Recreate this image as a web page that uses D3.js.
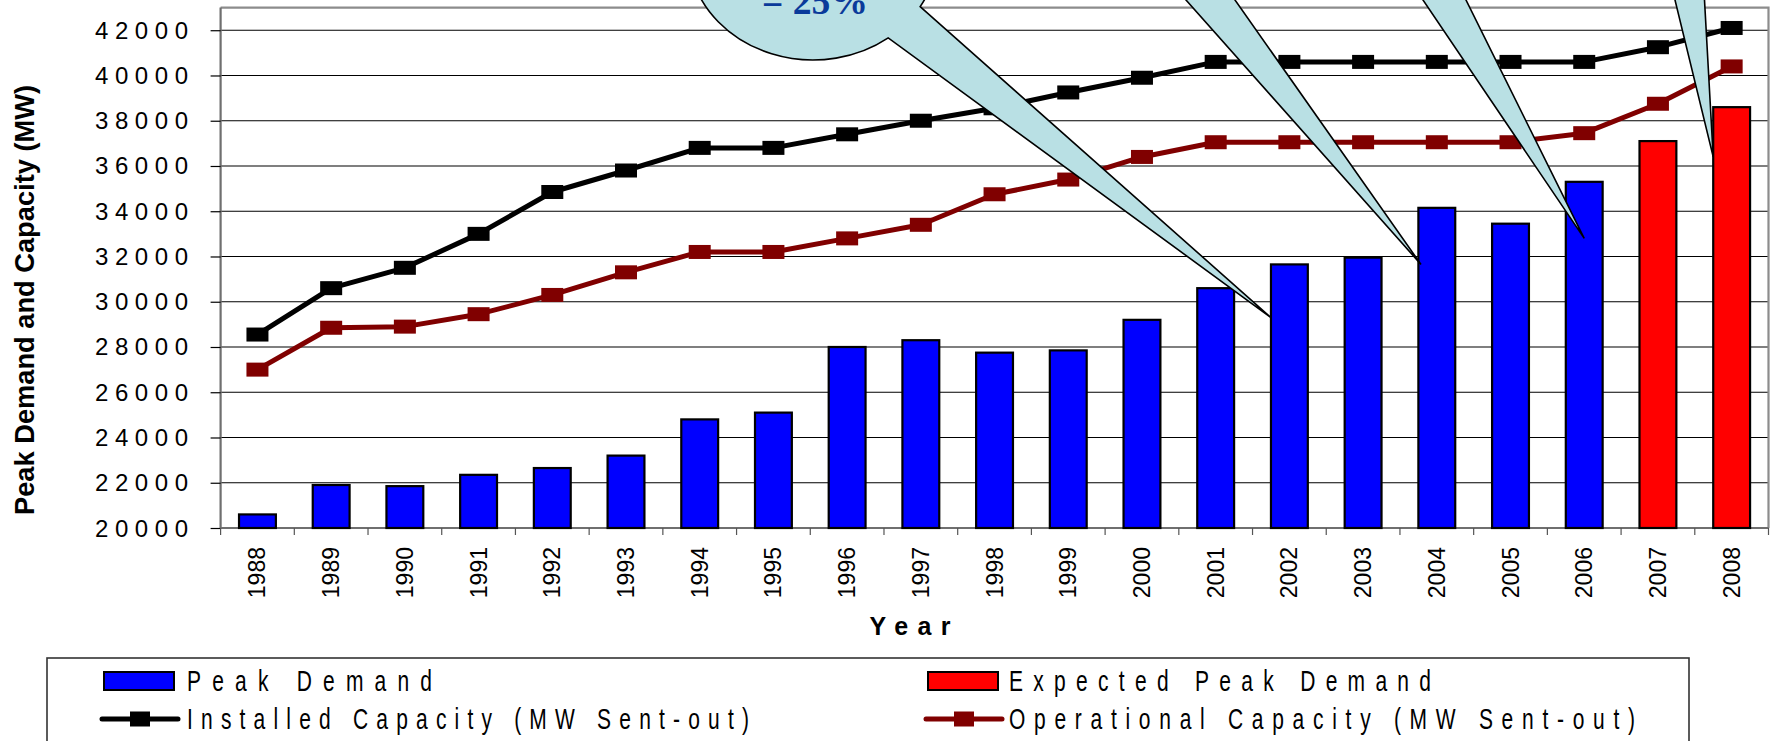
<!DOCTYPE html>
<html><head><meta charset="utf-8">
<script src="https://cdn.jsdelivr.net/npm/d3@7"></script>
<style>
body{margin:0;background:#fff}
svg{display:block}
text{font-family:"Liberation Sans",Arial,sans-serif}
text.serif{font-family:"Liberation Serif","Times New Roman",serif}
</style>
</head><body>
<svg id="c" width="1774" height="741"></svg>
<script>
// ---------- data ----------
const years = ["1988","1989","1990","1991","1992","1993","1994","1995","1996","1997","1998","1999","2000","2001","2002","2003","2004","2005","2006","2007","2008"];
const peakDemand = [20600,21900,21850,22350,22650,23200,24800,25100,28000,28300,27750,27850,29200,30600,31650,31950,34150,33450,35300,null,null];
const expectedPeakDemand = [null,null,null,null,null,null,null,null,null,null,null,null,null,null,null,null,null,null,null,37100,38600];
const installedCapacity = [28550,30600,31500,33000,34850,35800,36800,36800,37400,38000,38550,39250,39900,40600,40600,40600,40600,40600,40600,41250,42100];
const operationalCapacity = [27000,28850,28900,29450,30300,31300,32200,32200,32800,33400,34750,35400,36400,37050,37050,37050,37050,37050,37450,38750,40400];
const yTicks = [20000,22000,24000,26000,28000,30000,32000,34000,36000,38000,40000,42000];
const legendLabels = ["Peak Demand","Expected Peak Demand","Installed Capacity (MW Sent-out)","Operational Capacity (MW Sent-out)"];
const calloutText = "= 25%";
// callout pointer tips (year, position inside band, value)
const calloutTipYears = ["2002","2004","2006","2008"];
const calloutTipFrac = [0.0,0.07,0.5,0.0];
const calloutTipValues = [29300,31650,32800,36400];

// ---------- layout ----------
const svg = d3.select("#c");
const L = 220.6, R = 1768.5, T = 7.6, B = 528;
const x = d3.scaleBand().domain(years).range([L, R]).paddingInner(0.5).paddingOuter(0.25);
const step = x.step();
const y = d3.scaleLinear().domain([20000, 43000]).range([B, T]);
const cx = d => x(d) + x.bandwidth()/2;

// gridlines
svg.append("g").selectAll("line").data(yTicks.filter(v=>v>20000)).join("line")
  .attr("x1", L).attr("x2", R).attr("y1", d=>y(d)).attr("y2", d=>y(d))
  .attr("stroke", "#000").attr("stroke-width", 1.2);

// plot border top/right
svg.append("path").attr("d", `M${L},${T}H${R}V${B}`).attr("fill","none")
  .attr("stroke","#8c8c8c").attr("stroke-width",2.2);

// y axis
const yAxis = d3.axisLeft(y).tickValues(yTicks).tickSize(10).tickFormat("");
const gy = svg.append("g").attr("transform", `translate(${L},0)`).call(yAxis);
gy.select(".domain").attr("stroke","#6f6f6f").attr("stroke-width",2.2).attr("d", `M0,${T}V${B}`);
gy.selectAll(".tick line").attr("stroke","#000").attr("stroke-width",1.2);
svg.append("g").selectAll("text").data(yTicks).join("text")
  .attr("x", 188).attr("y", d => y(d) + 8.5)
  .attr("text-anchor","end").attr("font-size", 24).attr("fill","#000")
  .attr("textLength", 93).attr("lengthAdjust","spacing")
  .text(d => d);

// x axis
svg.append("line").attr("x1",L).attr("x2",R).attr("y1",B).attr("y2",B)
  .attr("stroke","#6f6f6f").attr("stroke-width",2.2);
svg.append("g").selectAll("line").data(d3.range(years.length+1)).join("line")
  .attr("x1", i => L + i*step).attr("x2", i => L + i*step)
  .attr("y1", B).attr("y2", B+7).attr("stroke","#555").attr("stroke-width",1.2);
svg.append("g").selectAll("text").data(years).join("text")
  .attr("transform", d => `translate(${cx(d)+8},547) rotate(-90)`)
  .attr("text-anchor","end").attr("font-size",23).attr("fill","#000")
  .text(d => d);

// axis titles
svg.append("text").attr("x", 910).attr("y", 635).attr("text-anchor","middle")
  .attr("font-size",25).attr("font-weight","bold").attr("textLength",81).attr("lengthAdjust","spacing")
  .text("Year");
svg.append("text").attr("transform","translate(34,300) rotate(-90)").attr("text-anchor","middle")
  .attr("font-size",28).attr("font-weight","bold").attr("textLength",430).attr("lengthAdjust","spacingAndGlyphs")
  .text("Peak Demand and Capacity (MW)");

// bars
function bars(vals, color){
  svg.append("g").selectAll("rect").data(years.map((d,i)=>({d, v:vals[i]})).filter(o=>o.v!=null)).join("rect")
    .attr("x", o => x(o.d)).attr("width", x.bandwidth())
    .attr("y", o => y(o.v)).attr("height", o => B - y(o.v))
    .attr("fill", color).attr("stroke","#000").attr("stroke-width",2.2);
}
bars(peakDemand, "#0000ff");
bars(expectedPeakDemand, "#ff0000");

// lines
function series(vals, color){
  const pts = years.map((d,i)=>[cx(d), y(vals[i])]);
  svg.append("path").attr("d", d3.line()(pts)).attr("fill","none")
    .attr("stroke", color).attr("stroke-width",5).attr("stroke-linejoin","round");
  svg.append("g").selectAll("rect").data(pts).join("rect")
    .attr("x", p=>p[0]-11).attr("y", p=>p[1]-7).attr("width",22).attr("height",14)
    .attr("fill", color);
}
series(installedCapacity, "#000000");
series(operationalCapacity, "#800000");

// ---------- callouts ----------
const cFill = "#b9e0e4";
const ex = 813, ey = -50, erx = 125, ery = 110;
const ang = a => [ex + erx*Math.cos(a*Math.PI/180), ey + ery*Math.sin(a*Math.PI/180)];
const pA = ang(31), pB = ang(53);
const tips = calloutTipYears.map((yr,i)=>[x(yr) + calloutTipFrac[i]*x.bandwidth(), y(calloutTipValues[i])]);
svg.append("path")
  .attr("d", `M${pA}L${tips[0]}L${pB}A${erx},${ery} 0 1 1 ${pA}Z`)
  .attr("fill", cFill).attr("stroke","#000").attr("stroke-width",1.6).attr("stroke-linejoin","miter");
svg.append("text").attr("class","serif").attr("x", 815).attr("y", 14).attr("text-anchor","middle")
  .attr("font-weight","bold")
  .attr("font-size",38).attr("fill","#0a3a9a").attr("textLength",106).attr("lengthAdjust","spacingAndGlyphs")
  .text(calloutText);
const wedgeTop = [[1186,1235],[1423,1466],[1675,1704.5]];
wedgeTop.forEach((w,i)=>{
  const t = tips[i+1];
  const ext = (xx) => {
    const k = (-30 - t[1]) / (0 - t[1]);
    return [t[0] + (xx - t[0])*k, -30];
  };
  svg.append("path").attr("d", `M${ext(w[0])}L${t}L${ext(w[1])}Z`)
    .attr("fill", cFill).attr("stroke","#000").attr("stroke-width",1.6);
});

// ---------- legend ----------
svg.append("rect").attr("x",47).attr("y",658).attr("width",1689-47).attr("height",120)
  .attr("fill","#fff").attr("stroke","#333").attr("stroke-width",1.6);
const legX = [104, 928], txtX = [187, 1009], rowY = [681, 719];
const txtLen = [245, 422, 562, 626];
[["#0000ff",0],["#ff0000",1]].forEach(([c,i])=>{
  svg.append("rect").attr("x",legX[i]).attr("y",rowY[0]-9).attr("width",70).attr("height",18)
    .attr("fill",c).attr("stroke","#000").attr("stroke-width",2);
});
[["#000000",0],["#800000",1]].forEach(([c,i])=>{
  svg.append("line").attr("x1",legX[i]-2).attr("x2",legX[i]+74).attr("y1",rowY[1]).attr("y2",rowY[1])
    .attr("stroke",c).attr("stroke-width",5).attr("stroke-linecap","round");
  svg.append("rect").attr("x",legX[i]+26).attr("y",rowY[1]-7.5).attr("width",20).attr("height",15).attr("fill",c);
});
const sx = 0.7;
legendLabels.forEach((lab,i)=>{
  const col = i%2, row = Math.floor(i/2);
  svg.append("text").attr("transform", `translate(${txtX[col]},${rowY[row]+10}) scale(${sx},1)`)
    .attr("font-size",30).attr("fill","#000")
    .attr("textLength", txtLen[i]/sx).attr("lengthAdjust","spacing")
    .text(lab);
});
</script>
</body></html>
